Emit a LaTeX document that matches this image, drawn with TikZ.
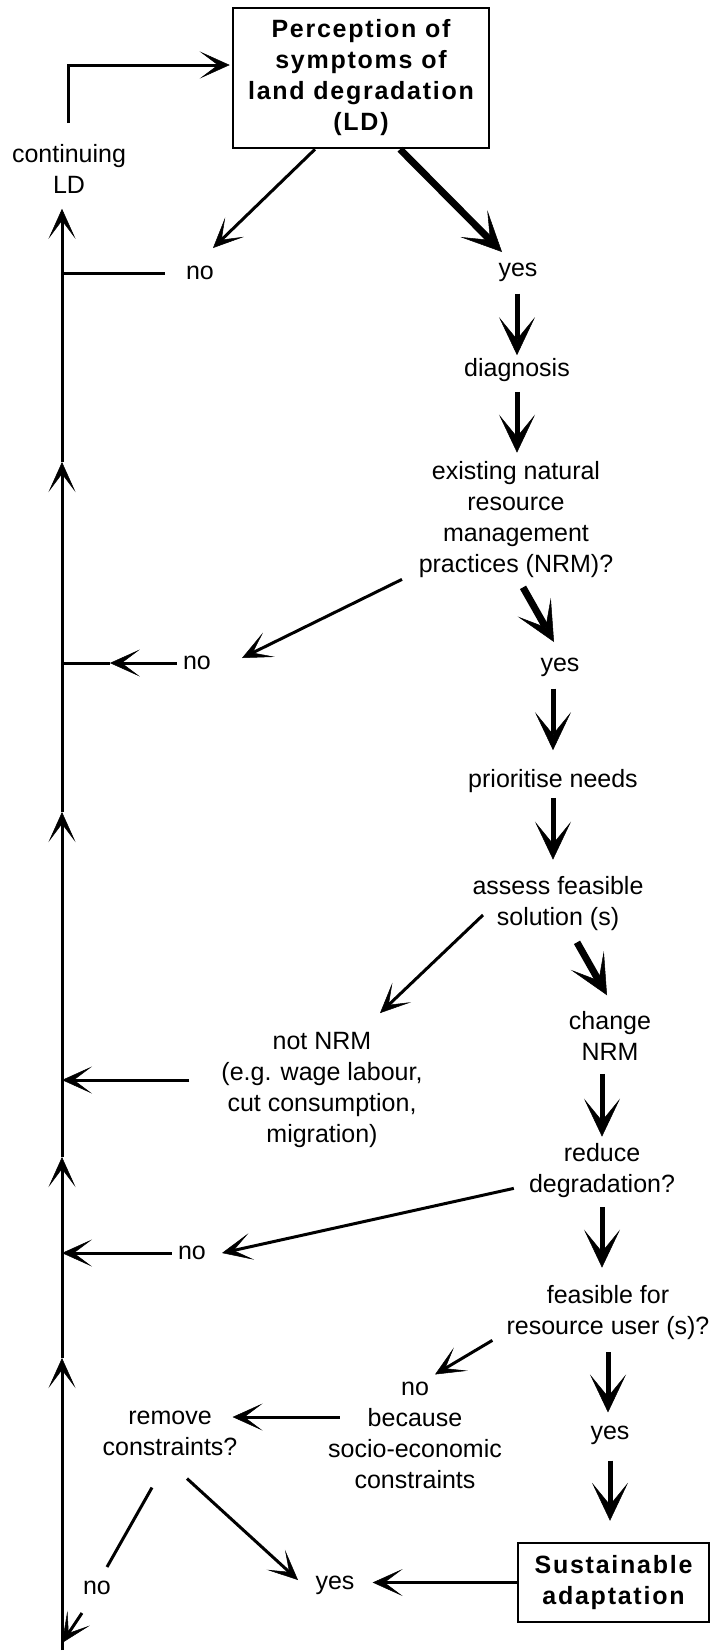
\documentclass[tikz,border=0pt]{standalone}
\usepackage{fontspec}
\setmainfont{Liberation Sans}
\usepackage{tikz}
\usetikzlibrary{calc, arrows.meta, positioning}

\begin{document}
\begin{tikzpicture}[x=1pt, y=1pt,
    font=\fontsize{25}{31}\selectfont,
    txt/.style={align=center, inner sep=0pt},
    khung/.style={draw, line width=2.5pt, align=center, inner sep=0pt,
        font=\fontsize{25}{31}\selectfont\bfseries\addfontfeatures{LetterSpace=7}},
    mong/.style={line width=3pt, -{Stealth[length=30pt, width=27pt, inset=18pt, line width=0.5pt]}},
    vua/.style={line width=5pt, -{Stealth[length=38pt, width=36pt, inset=22pt, line width=0.5pt]}},
    day/.style={line width=7pt, -{Stealth[length=40pt, width=38pt, inset=23pt, line width=0.5pt]}},
    tron/.style={line width=3pt}]

    \useasboundingbox (0,0) rectangle (710,-1652);

    % =================================================================
    % CAC KHUNG VA NHAN
    % =================================================================
    \node[khung, minimum width=256pt, minimum height=140pt] (percep) at (361,-78)
        {Perception of\\symptoms of\\land degradation\\(LD)};
    \node[txt] (cont) at (69,-169) {continuing\\LD};
    \node[txt] (no1) at (200,-273) {no};
    \node[txt] (yes1) at (518,-272) {yes};
    \node[txt] (diag) at (517,-370) {diagnosis};
    \node[txt] (exist) at (516,-520) {existing natural\\resource\\management\\practices (NRM)?};
    \node[txt] (no2) at (197,-663) {no};
    \node[txt] (yes2) at (560,-667) {yes};
    \node[txt] (prio) at (553,-781) {prioritise needs};
    \node[txt] (assess) at (558,-904) {assess feasible\\solution (s)};
    \node[txt] (notnrm) at (322,-1090) {not NRM\\(e.g. wage labour,\\cut consumption,\\migration)};
    \node[txt] (change) at (610,-1036) {change\\NRM};
    \node[txt] (reduce) at (602,-1171) {reduce\\degradation?};
    \node[txt] (no3) at (192,-1253) {no};
    \node[txt] (feas) at (608,-1313) {feasible for\\resource user (s)?};
    \node[txt] (nobec) at (415,-1435) {no\\because\\socio-economic\\constraints};
    \node[txt] (yes3) at (610,-1435) {yes};
    \node[txt] (remove) at (170,-1433) {remove\\constraints?};
    \node[khung, minimum width=191pt, minimum height=79pt] (susta) at (613.5,-1582.5)
        {Sustainable\\adaptation};
    \node[txt] (yes4) at (335,-1585) {yes};
    \node[txt] (no4) at (97,-1588) {no};

    % =================================================================
    % DUONG VONG BEN TRAI
    % =================================================================
    \coordinate (bot) at (62,-1650);
    \coordinate (m1) at (62,-1358);
    \coordinate (m2) at (62,-1157);
    \coordinate (m3) at (62,-812);
    \coordinate (m4) at (62,-462);
    \draw[mong] (bot) -- (m1);
    \draw[mong] (m1) -- (m2);
    \draw[mong] (m2) -- (m3);
    \draw[mong] (m3) -- (m4);
    \draw[mong] (m4) -- ($(cont.south -| bot)+(0,-15)$);
    \draw[mong, shorten >=2pt] ($(cont.north)+(-1,21)$) |- ($(percep.west)+(0,13)$);

    % =================================================================
    % NHANH CHINH
    % =================================================================
    \draw[mong] ($(percep.south)+(-46,0)$) -- ($(no1)+(13,25)$);
    \draw[day] ($(percep.south)+(39,0)$) -- ($(yes1)+(-16,20)$);
    \draw[tron] ($(no1.west)+(-21,0)$) -- (no1 -| bot);

    \draw[vua, shorten <=12pt, shorten >=3pt] (diag.north |- yes1.south) -- (diag.north);
    \draw[vua, shorten <=10pt, shorten >=9pt] (diag.south) -- (diag.south |- exist.north);

    \draw[day] ($(exist.south)+(7,-9)$) -- ($(yes2)+(-6,25)$);
    \draw[mong] ($(exist.south)+(-114,-1)$) -- ($(no2)+(45,5)$);
    \draw[mong] ($(no2.west)+(-6,0)$) -- ($(no2.west)+(-73,0)$);
    \draw[tron] ($(no2.west)+(-73,0)$) -- (no2 -| bot);

    \draw[vua, shorten <=12pt, shorten >=19pt] (prio.north |- yes2.south) -- (prio.north);
    \draw[vua, shorten <=5pt, shorten >=17pt] (prio.south) -- (prio.south |- assess.north);

    \draw[mong] ($(assess)+(-75,-11)$) -- ($(notnrm.north)+(58,19)$);
    \draw[day] ($(assess.south)+(19,-11)$) -- ($(change.north)+(-3,16)$);
    \draw[mong] ($(notnrm.west)+(-32,10)$) coordinate (nn) -- (nn -| bot);

    \draw[vua, shorten <=13pt, shorten >=7pt] (reduce.north |- change.south) -- (reduce.north);
    \draw[mong] ($(reduce.south west)+(-15,10)$) -- ($(no3)+(30,0)$);
    \draw[mong] ($(no3.west)+(-6,0)$) -- (no3 -| bot);

    \draw[vua, shorten <=9pt, shorten >=18pt] (reduce.south) -- (reduce.south |- feas.north);
    \draw[mong] ($(feas.south west)+(-14,0)$) -- ($(nobec.north)+(20,7)$);
    \draw[vua, shorten <=12pt, shorten >=13pt] (feas.south) -- (feas.south |- yes3.north);
    \draw[vua, shorten <=16pt, shorten >=21pt] (yes3.south) -- (yes3.south |- susta.north);

    % =================================================================
    % RANG BUOC VA KET QUA
    % =================================================================
    \draw[mong] ($(nobec.west)+(12,18)$) -- ($(remove.east)+(-5,16)$);
    \draw[mong] ($(remove.south)+(17,-23)$) -- ($(yes4)+(-37,5)$);
    \draw[tron] ($(remove.south)+(-18,-32)$) -- ($(no4)+(10,21)$);
    \draw[mong] ($(no4)+(-15,-25)$) -- ($(bot)+(0,7)$);
    \draw[mong, shorten >=18pt] (susta.west) -- (susta.west -| yes4.east);

\end{tikzpicture}
\end{document}
